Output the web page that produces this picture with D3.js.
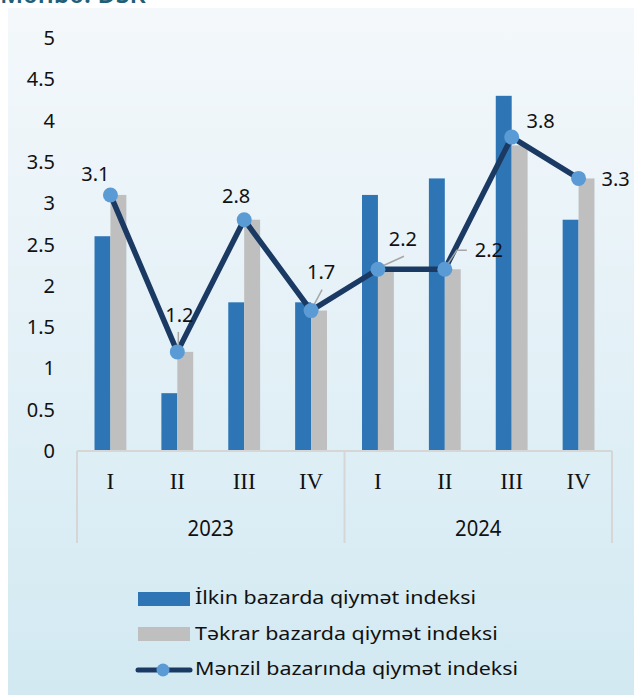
<!DOCTYPE html>
<html>
<head>
<meta charset="utf-8">
<script src="https://cdn.jsdelivr.net/npm/d3@7"></script>
<style>
  body { margin: 0; background: #fff; }
  text { font-family: 'Noto Sans', 'Open Sans', sans-serif; fill: #111; }
</style>
</head>
<body>
<svg width="634" height="695"></svg>
<script>
const years = ['2023', '2024'];
const quarters = ['I', 'II', 'III', 'IV'];
const primary = [2.6, 0.7, 1.8, 1.8, 3.1, 3.3, 4.3, 2.8];
const secondary = [3.1, 1.2, 2.8, 1.7, 2.2, 2.2, 3.7, 3.3];
const housing = [3.1, 1.2, 2.8, 1.7, 2.2, 2.2, 3.8, 3.3];
const yTicks = [0, 0.5, 1, 1.5, 2, 2.5, 3, 3.5, 4, 4.5, 5];
const seriesNames = ['İlkin bazarda qiymət indeksi', 'Təkrar bazarda qiymət indeksi', 'Mənzil bazarında qiymət indeksi'];

// label offsets (dx, dy from marker) and leader lines
const labelPos = [
  {dx: -15, dy: -21}, {dx: 2, dy: -37}, {dx: -8, dy: -24}, {dx: 10, dy: -39},
  {dx: 25, dy: -30}, {dx: 44, dy: -19}, {dx: 29, dy: -16}, {dx: 37, dy: 1}
];
const leaders = [null, [[1, -6], [1, -20]], null, [[2, -4], [11, -21]],
  [[4, -3], [26, -13]], [[2, -4], [12, -19], [22, -19]], null, null];

const svg = d3.select('svg');
const W = 634, H = 695;

const defs = svg.append('defs');
const grad = defs.append('linearGradient').attr('id', 'bg').attr('x1', 0).attr('x2', 0).attr('y1', 0).attr('y2', 1);
grad.append('stop').attr('offset', '0%').attr('stop-color', '#f4f8fb');
grad.append('stop').attr('offset', '60%').attr('stop-color', '#e0eff6');
grad.append('stop').attr('offset', '100%').attr('stop-color', '#d2e9f2');

svg.append('rect').attr('x', 8).attr('y', 8).attr('width', W - 8).attr('height', H - 8).attr('fill', 'url(#bg)');

// text helper: scaled horizontally around its anchor
function label(sel, x, y, txt, size, sx, anchor) {
  return sel.append('text')
    .attr('transform', `translate(${x},${y}) scale(${sx},1)`)
    .attr('dy', '0.35em').attr('text-anchor', anchor || 'start')
    .style('font-size', size + 'px').text(txt);
}

// cut off source line at the very top
svg.append('text').attr('x', 0).attr('y', 3).style('font-size', '25px').style('font-weight', '600')
  .style('fill', '#1f5f78').text('Mənbə: DSK');

const x0 = 77, x1 = 612, yBase = 451, yTop = 38;
const cats = d3.range(8);
const x = d3.scaleBand().domain(cats).range([x0, x1]);
const xs = d3.scaleBand().domain([0, 1]).range([0, x.bandwidth()]).paddingOuter(1.1).paddingInner(0);
const y = d3.scaleLinear().domain([0, 5]).range([yBase, yTop]);

// y tick labels
const yt = svg.append('g');
yTicks.forEach(d => label(yt, 55, y(d), d, 20, 1, 'end'));

// bars
const g = svg.append('g');
g.selectAll('.b1').data(primary).enter().append('rect')
  .attr('x', (d, i) => x(i) + xs(0)).attr('y', d => y(d))
  .attr('width', xs.bandwidth()).attr('height', d => yBase - y(d)).attr('fill', '#2e75b6');
g.selectAll('.b2').data(secondary).enter().append('rect')
  .attr('x', (d, i) => x(i) + xs(1)).attr('y', d => y(d))
  .attr('width', xs.bandwidth()).attr('height', d => yBase - y(d)).attr('fill', '#bfbfbf');

// axis
const ax = svg.append('g').attr('stroke', '#d6d6d6').attr('stroke-width', 2);
ax.append('line').attr('x1', x0).attr('x2', x1).attr('y1', yBase).attr('y2', yBase);
[x0, (x0 + x1) / 2, x1].forEach(v => {
  ax.append('line').attr('x1', v).attr('x2', v).attr('y1', yBase).attr('y2', 543);
});
svg.append('g').selectAll('text').data(cats).enter().append('text')
  .attr('x', i => x(i) + x.bandwidth() / 2).attr('y', 481).attr('dy', '0.35em')
  .attr('text-anchor', 'middle').style('font-family', "'Liberation Serif', serif").style('font-size', '23px')
  .text(i => quarters[i % 4]);
const yl = svg.append('g');
years.forEach((d, i) => label(yl, x0 + (x1 - x0) / 4 + i * (x1 - x0) / 2, 528, d, 22, 0.92, 'middle'));

// line
const cx = i => x(i) + x.bandwidth() / 2;
const line = d3.line().x((d, i) => cx(i)).y(d => y(d));
svg.append('path').attr('d', line(housing)).attr('fill', 'none')
  .attr('stroke', '#1b3a63').attr('stroke-width', 5.5).attr('stroke-linejoin', 'round');

// leader lines
leaders.forEach((l, i) => {
  if (!l) return;
  svg.append('polyline').attr('points', l.map(p => [cx(i) + p[0], y(housing[i]) + p[1]].join(',')).join(' '))
    .attr('fill', 'none').attr('stroke', '#a6a6a6').attr('stroke-width', 1.5);
});

svg.append('g').selectAll('circle').data(housing).enter().append('circle')
  .attr('cx', (d, i) => cx(i)).attr('cy', d => y(d)).attr('r', 7.5).attr('fill', '#5b9bd5');

const dl = svg.append('g');
housing.forEach((d, i) => label(dl, cx(i) + labelPos[i].dx, y(d) + labelPos[i].dy, d, 20, 1, 'middle'));

// legend
const lg = svg.append('g');
lg.append('rect').attr('x', 138).attr('y', 592).attr('width', 52).attr('height', 14).attr('fill', '#2e75b6');
lg.append('rect').attr('x', 138).attr('y', 627).attr('width', 52).attr('height', 14).attr('fill', '#bfbfbf');
lg.append('line').attr('x1', 138).attr('x2', 190).attr('y1', 670).attr('y2', 670)
  .attr('stroke', '#1b3a63').attr('stroke-width', 5).attr('stroke-linecap', 'round');
lg.append('circle').attr('cx', 163).attr('cy', 670).attr('r', 6.5).attr('fill', '#5b9bd5');
seriesNames.forEach((d, i) => label(lg, 195, 598 + i * 35.5, d, 18, 1.19, 'start'));
</script>
</body>
</html>
